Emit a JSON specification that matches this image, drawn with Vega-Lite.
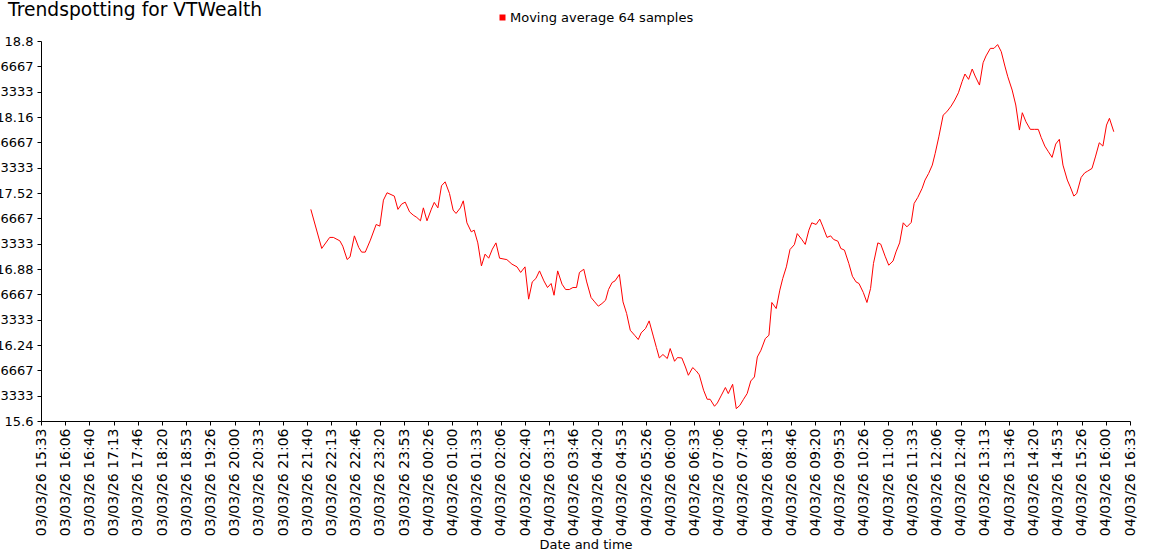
{
  "$schema": "https://vega.github.io/schema/vega-lite/v6.json",
  "width": 1089,
  "height": 380,
  "autosize": {"type": "none"},
  "padding": {"left": 41, "top": 41, "right": 20, "bottom": 139},
  "background": "white",
  "title": {"text": "Trendspotting for VTWealth", "anchor": "start", "frame": "group", "fontSize": 18.7, "font": "DejaVu Sans", "fontWeight": "normal", "color": "#000", "dx": -33, "offset": 12, "dy": 21},
  "config": {
    "view": {"stroke": null},
    "axis": {"grid": false, "domainColor": "#000", "tickColor": "#000", "labelColor": "#000", "titleColor": "#000", "labelFont": "DejaVu Sans", "titleFont": "DejaVu Sans", "titleFontWeight": "normal", "domainWidth": 1, "tickWidth": 1}
  },
  "data": {"values": [
    {"time": "2026-03-03T21:45:00Z", "value": 17.382},
    {"time": "2026-03-03T22:00:00Z", "value": 17.053},
    {"time": "2026-03-03T22:11:00Z", "value": 17.146},
    {"time": "2026-03-03T22:16:00Z", "value": 17.146},
    {"time": "2026-03-03T22:25:00Z", "value": 17.117},
    {"time": "2026-03-03T22:29:00Z", "value": 17.072},
    {"time": "2026-03-03T22:35:00Z", "value": 16.960},
    {"time": "2026-03-03T22:39:00Z", "value": 16.982},
    {"time": "2026-03-03T22:45:00Z", "value": 17.159},
    {"time": "2026-03-03T22:51:00Z", "value": 17.061},
    {"time": "2026-03-03T22:55:00Z", "value": 17.022},
    {"time": "2026-03-03T23:00:00Z", "value": 17.022},
    {"time": "2026-03-03T23:07:00Z", "value": 17.123},
    {"time": "2026-03-03T23:15:00Z", "value": 17.255},
    {"time": "2026-03-03T23:20:00Z", "value": 17.241},
    {"time": "2026-03-03T23:25:00Z", "value": 17.460},
    {"time": "2026-03-03T23:30:00Z", "value": 17.522},
    {"time": "2026-03-03T23:40:00Z", "value": 17.494},
    {"time": "2026-03-03T23:45:00Z", "value": 17.382},
    {"time": "2026-03-03T23:50:00Z", "value": 17.426},
    {"time": "2026-03-03T23:55:00Z", "value": 17.443},
    {"time": "2026-03-04T00:01:00Z", "value": 17.361},
    {"time": "2026-03-04T00:06:00Z", "value": 17.334},
    {"time": "2026-03-04T00:11:00Z", "value": 17.314},
    {"time": "2026-03-04T00:16:00Z", "value": 17.286},
    {"time": "2026-03-04T00:20:00Z", "value": 17.395},
    {"time": "2026-03-04T00:25:00Z", "value": 17.286},
    {"time": "2026-03-04T00:31:00Z", "value": 17.384},
    {"time": "2026-03-04T00:35:00Z", "value": 17.441},
    {"time": "2026-03-04T00:40:00Z", "value": 17.395},
    {"time": "2026-03-04T00:45:00Z", "value": 17.581},
    {"time": "2026-03-04T00:50:00Z", "value": 17.614},
    {"time": "2026-03-04T00:56:00Z", "value": 17.516},
    {"time": "2026-03-04T01:01:00Z", "value": 17.376},
    {"time": "2026-03-04T01:05:00Z", "value": 17.348},
    {"time": "2026-03-04T01:11:00Z", "value": 17.395},
    {"time": "2026-03-04T01:15:00Z", "value": 17.454},
    {"time": "2026-03-04T01:20:00Z", "value": 17.269},
    {"time": "2026-03-04T01:26:00Z", "value": 17.193},
    {"time": "2026-03-04T01:30:00Z", "value": 17.207},
    {"time": "2026-03-04T01:35:00Z", "value": 17.100},
    {"time": "2026-03-04T01:40:00Z", "value": 16.906},
    {"time": "2026-03-04T01:45:00Z", "value": 17.005},
    {"time": "2026-03-04T01:50:00Z", "value": 16.971},
    {"time": "2026-03-04T01:55:00Z", "value": 17.047},
    {"time": "2026-03-04T02:00:00Z", "value": 17.100},
    {"time": "2026-03-04T02:05:00Z", "value": 16.971},
    {"time": "2026-03-04T02:15:00Z", "value": 16.959},
    {"time": "2026-03-04T02:22:00Z", "value": 16.921},
    {"time": "2026-03-04T02:29:00Z", "value": 16.898},
    {"time": "2026-03-04T02:34:00Z", "value": 16.851},
    {"time": "2026-03-04T02:40:00Z", "value": 16.898},
    {"time": "2026-03-04T02:45:00Z", "value": 16.626},
    {"time": "2026-03-04T02:50:00Z", "value": 16.771},
    {"time": "2026-03-04T02:55:00Z", "value": 16.800},
    {"time": "2026-03-04T03:00:00Z", "value": 16.864},
    {"time": "2026-03-04T03:06:00Z", "value": 16.780},
    {"time": "2026-03-04T03:11:00Z", "value": 16.724},
    {"time": "2026-03-04T03:16:00Z", "value": 16.758},
    {"time": "2026-03-04T03:20:00Z", "value": 16.659},
    {"time": "2026-03-04T03:25:00Z", "value": 16.864},
    {"time": "2026-03-04T03:31:00Z", "value": 16.752},
    {"time": "2026-03-04T03:36:00Z", "value": 16.707},
    {"time": "2026-03-04T03:41:00Z", "value": 16.707},
    {"time": "2026-03-04T03:46:00Z", "value": 16.724},
    {"time": "2026-03-04T03:51:00Z", "value": 16.724},
    {"time": "2026-03-04T03:55:00Z", "value": 16.851},
    {"time": "2026-03-04T04:01:00Z", "value": 16.878},
    {"time": "2026-03-04T04:05:00Z", "value": 16.771},
    {"time": "2026-03-04T04:11:00Z", "value": 16.640},
    {"time": "2026-03-04T04:16:00Z", "value": 16.603},
    {"time": "2026-03-04T04:21:00Z", "value": 16.567},
    {"time": "2026-03-04T04:26:00Z", "value": 16.589},
    {"time": "2026-03-04T04:31:00Z", "value": 16.617},
    {"time": "2026-03-04T04:35:00Z", "value": 16.707},
    {"time": "2026-03-04T04:40:00Z", "value": 16.766},
    {"time": "2026-03-04T04:44:00Z", "value": 16.780},
    {"time": "2026-03-04T04:50:00Z", "value": 16.834},
    {"time": "2026-03-04T04:55:00Z", "value": 16.603},
    {"time": "2026-03-04T05:00:00Z", "value": 16.505},
    {"time": "2026-03-04T05:05:00Z", "value": 16.364},
    {"time": "2026-03-04T05:11:00Z", "value": 16.322},
    {"time": "2026-03-04T05:16:00Z", "value": 16.286},
    {"time": "2026-03-04T05:20:00Z", "value": 16.342},
    {"time": "2026-03-04T05:26:00Z", "value": 16.379},
    {"time": "2026-03-04T05:31:00Z", "value": 16.443},
    {"time": "2026-03-04T05:37:00Z", "value": 16.308},
    {"time": "2026-03-04T05:41:00Z", "value": 16.219},
    {"time": "2026-03-04T05:45:00Z", "value": 16.131},
    {"time": "2026-03-04T05:50:00Z", "value": 16.160},
    {"time": "2026-03-04T05:56:00Z", "value": 16.126},
    {"time": "2026-03-04T06:00:00Z", "value": 16.210},
    {"time": "2026-03-04T06:06:00Z", "value": 16.103},
    {"time": "2026-03-04T06:10:00Z", "value": 16.134},
    {"time": "2026-03-04T06:16:00Z", "value": 16.131},
    {"time": "2026-03-04T06:21:00Z", "value": 16.055},
    {"time": "2026-03-04T06:25:00Z", "value": 15.985},
    {"time": "2026-03-04T06:31:00Z", "value": 16.050},
    {"time": "2026-03-04T06:36:00Z", "value": 16.021},
    {"time": "2026-03-04T06:40:00Z", "value": 15.989},
    {"time": "2026-03-04T06:46:00Z", "value": 15.859},
    {"time": "2026-03-04T06:51:00Z", "value": 15.783},
    {"time": "2026-03-04T06:55:00Z", "value": 15.783},
    {"time": "2026-03-04T07:01:00Z", "value": 15.724},
    {"time": "2026-03-04T07:05:00Z", "value": 15.752},
    {"time": "2026-03-04T07:10:00Z", "value": 15.811},
    {"time": "2026-03-04T07:16:00Z", "value": 15.882},
    {"time": "2026-03-04T07:20:00Z", "value": 15.831},
    {"time": "2026-03-04T07:26:00Z", "value": 15.909},
    {"time": "2026-03-04T07:31:00Z", "value": 15.704},
    {"time": "2026-03-04T07:36:00Z", "value": 15.732},
    {"time": "2026-03-04T07:41:00Z", "value": 15.783},
    {"time": "2026-03-04T07:46:00Z", "value": 15.831},
    {"time": "2026-03-04T07:51:00Z", "value": 15.937},
    {"time": "2026-03-04T07:56:00Z", "value": 15.971},
    {"time": "2026-03-04T08:00:00Z", "value": 16.139},
    {"time": "2026-03-04T08:05:00Z", "value": 16.196},
    {"time": "2026-03-04T08:11:00Z", "value": 16.294},
    {"time": "2026-03-04T08:16:00Z", "value": 16.322},
    {"time": "2026-03-04T08:20:00Z", "value": 16.598},
    {"time": "2026-03-04T08:26:00Z", "value": 16.547},
    {"time": "2026-03-04T08:31:00Z", "value": 16.702},
    {"time": "2026-03-04T08:35:00Z", "value": 16.800},
    {"time": "2026-03-04T08:40:00Z", "value": 16.898},
    {"time": "2026-03-04T08:45:00Z", "value": 17.044},
    {"time": "2026-03-04T08:51:00Z", "value": 17.085},
    {"time": "2026-03-04T08:55:00Z", "value": 17.178},
    {"time": "2026-03-04T09:01:00Z", "value": 17.131},
    {"time": "2026-03-04T09:06:00Z", "value": 17.087},
    {"time": "2026-03-04T09:11:00Z", "value": 17.207},
    {"time": "2026-03-04T09:15:00Z", "value": 17.269},
    {"time": "2026-03-04T09:21:00Z", "value": 17.255},
    {"time": "2026-03-04T09:26:00Z", "value": 17.300},
    {"time": "2026-03-04T09:30:00Z", "value": 17.241},
    {"time": "2026-03-04T09:36:00Z", "value": 17.146},
    {"time": "2026-03-04T09:41:00Z", "value": 17.159},
    {"time": "2026-03-04T09:45:00Z", "value": 17.129},
    {"time": "2026-03-04T09:51:00Z", "value": 17.114},
    {"time": "2026-03-04T09:55:00Z", "value": 17.053},
    {"time": "2026-03-04T10:00:00Z", "value": 17.039},
    {"time": "2026-03-04T10:06:00Z", "value": 16.927},
    {"time": "2026-03-04T10:11:00Z", "value": 16.819},
    {"time": "2026-03-04T10:16:00Z", "value": 16.771},
    {"time": "2026-03-04T10:20:00Z", "value": 16.758},
    {"time": "2026-03-04T10:26:00Z", "value": 16.682},
    {"time": "2026-03-04T10:31:00Z", "value": 16.598},
    {"time": "2026-03-04T10:36:00Z", "value": 16.716},
    {"time": "2026-03-04T10:40:00Z", "value": 16.927},
    {"time": "2026-03-04T10:46:00Z", "value": 17.100},
    {"time": "2026-03-04T10:50:00Z", "value": 17.089},
    {"time": "2026-03-04T10:56:00Z", "value": 16.988},
    {"time": "2026-03-04T11:01:00Z", "value": 16.912},
    {"time": "2026-03-04T11:07:00Z", "value": 16.948},
    {"time": "2026-03-04T11:11:00Z", "value": 17.024},
    {"time": "2026-03-04T11:16:00Z", "value": 17.100},
    {"time": "2026-03-04T11:21:00Z", "value": 17.269},
    {"time": "2026-03-04T11:26:00Z", "value": 17.235},
    {"time": "2026-03-04T11:32:00Z", "value": 17.272},
    {"time": "2026-03-04T11:36:00Z", "value": 17.432},
    {"time": "2026-03-04T11:41:00Z", "value": 17.483},
    {"time": "2026-03-04T11:47:00Z", "value": 17.559},
    {"time": "2026-03-04T11:51:00Z", "value": 17.629},
    {"time": "2026-03-04T11:56:00Z", "value": 17.685},
    {"time": "2026-03-04T12:01:00Z", "value": 17.755},
    {"time": "2026-03-04T12:05:00Z", "value": 17.854},
    {"time": "2026-03-04T12:10:00Z", "value": 17.993},
    {"time": "2026-03-04T12:16:00Z", "value": 18.176},
    {"time": "2026-03-04T12:21:00Z", "value": 18.204},
    {"time": "2026-03-04T12:27:00Z", "value": 18.252},
    {"time": "2026-03-04T12:32:00Z", "value": 18.303},
    {"time": "2026-03-04T12:37:00Z", "value": 18.364},
    {"time": "2026-03-04T12:42:00Z", "value": 18.457},
    {"time": "2026-03-04T12:46:00Z", "value": 18.522},
    {"time": "2026-03-04T12:51:00Z", "value": 18.477},
    {"time": "2026-03-04T12:56:00Z", "value": 18.564},
    {"time": "2026-03-04T13:00:00Z", "value": 18.505},
    {"time": "2026-03-04T13:06:00Z", "value": 18.429},
    {"time": "2026-03-04T13:11:00Z", "value": 18.617},
    {"time": "2026-03-04T13:15:00Z", "value": 18.674},
    {"time": "2026-03-04T13:21:00Z", "value": 18.738},
    {"time": "2026-03-04T13:26:00Z", "value": 18.738},
    {"time": "2026-03-04T13:31:00Z", "value": 18.770},
    {"time": "2026-03-04T13:36:00Z", "value": 18.710},
    {"time": "2026-03-04T13:41:00Z", "value": 18.589},
    {"time": "2026-03-04T13:45:00Z", "value": 18.499},
    {"time": "2026-03-04T13:51:00Z", "value": 18.387},
    {"time": "2026-03-04T13:56:00Z", "value": 18.261},
    {"time": "2026-03-04T14:01:00Z", "value": 18.050},
    {"time": "2026-03-04T14:05:00Z", "value": 18.196},
    {"time": "2026-03-04T14:10:00Z", "value": 18.120},
    {"time": "2026-03-04T14:16:00Z", "value": 18.056},
    {"time": "2026-03-04T14:22:00Z", "value": 18.056},
    {"time": "2026-03-04T14:27:00Z", "value": 18.056},
    {"time": "2026-03-04T14:31:00Z", "value": 17.988},
    {"time": "2026-03-04T14:36:00Z", "value": 17.915},
    {"time": "2026-03-04T14:41:00Z", "value": 17.867},
    {"time": "2026-03-04T14:46:00Z", "value": 17.820},
    {"time": "2026-03-04T14:51:00Z", "value": 17.932},
    {"time": "2026-03-04T14:56:00Z", "value": 17.972},
    {"time": "2026-03-04T15:01:00Z", "value": 17.755},
    {"time": "2026-03-04T15:07:00Z", "value": 17.629},
    {"time": "2026-03-04T15:11:00Z", "value": 17.572},
    {"time": "2026-03-04T15:16:00Z", "value": 17.494},
    {"time": "2026-03-04T15:20:00Z", "value": 17.516},
    {"time": "2026-03-04T15:26:00Z", "value": 17.651},
    {"time": "2026-03-04T15:31:00Z", "value": 17.690},
    {"time": "2026-03-04T15:35:00Z", "value": 17.704},
    {"time": "2026-03-04T15:41:00Z", "value": 17.727},
    {"time": "2026-03-04T15:46:00Z", "value": 17.831},
    {"time": "2026-03-04T15:51:00Z", "value": 17.943},
    {"time": "2026-03-04T15:56:00Z", "value": 17.915},
    {"time": "2026-03-04T16:01:00Z", "value": 18.092},
    {"time": "2026-03-04T16:05:00Z", "value": 18.149},
    {"time": "2026-03-04T16:11:00Z", "value": 18.036}
  ]},
  "mark": {"type": "line", "strokeWidth": 1},
  "encoding": {
    "x": {
      "field": "time", "type": "temporal",
      "scale": {"type": "utc", "domain": [1772552000000, 1772642000000], "nice": false},
      "axis": {
        "values": [1772552000000, 1772554000000, 1772556000000, 1772558000000, 1772560000000, 1772562000000, 1772564000000, 1772566000000, 1772568000000, 1772570000000, 1772572000000, 1772574000000, 1772576000000, 1772578000000, 1772580000000, 1772582000000, 1772584000000, 1772586000000, 1772588000000, 1772590000000, 1772592000000, 1772594000000, 1772596000000, 1772598000000, 1772600000000, 1772602000000, 1772604000000, 1772606000000, 1772608000000, 1772610000000, 1772612000000, 1772614000000, 1772616000000, 1772618000000, 1772620000000, 1772622000000, 1772624000000, 1772626000000, 1772628000000, 1772630000000, 1772632000000, 1772634000000, 1772636000000, 1772638000000, 1772640000000, 1772642000000],
        "labelExpr": "utcFormat(datum.value, '%d/%m/%y %H:%M')",
        "labelAngle": 270, "labelFontSize": 14, "tickSize": 4, "labelPadding": 3,
        "labelOverlap": false, "labelFlush": false,
        "title": "Date and time", "titleFontSize": 13, "titlePadding": 3
      }
    },
    "y": {
      "field": "value", "type": "quantitative",
      "scale": {"domain": [15.6, 18.8], "nice": false, "zero": false},
      "axis": {
        "values": [15.6, 15.813333333333333, 16.026666666666667, 16.24, 16.453333333333333, 16.666666666666668, 16.88, 17.093333333333334, 17.306666666666665, 17.52, 17.733333333333334, 17.946666666666665, 18.16, 18.373333333333335, 18.586666666666666, 18.8],
        "format": ".6~f", "labelFontSize": 13, "tickSize": 4, "labelPadding": 4,
        "labelOverlap": false, "labelFlush": false, "title": null
      }
    },
    "color": {
      "datum": "Moving average 64 samples", "type": "nominal",
      "scale": {"range": ["#ff0000"]},
      "legend": {
        "orient": "none", "legendX": 455, "legendY": -30, "title": null,
        "symbolType": "square", "symbolSize": 36, "labelFontSize": 13, "labelFont": "DejaVu Sans", "labelColor": "#000", "labelOffset": 1, "labelLimit": 400,
        "encode": {"symbols": {"update": {"fill": {"value": "#ff0000"}, "stroke": {"value": "#ff0000"}, "strokeWidth": {"value": 0}}}}
      }
    }
  }
}
